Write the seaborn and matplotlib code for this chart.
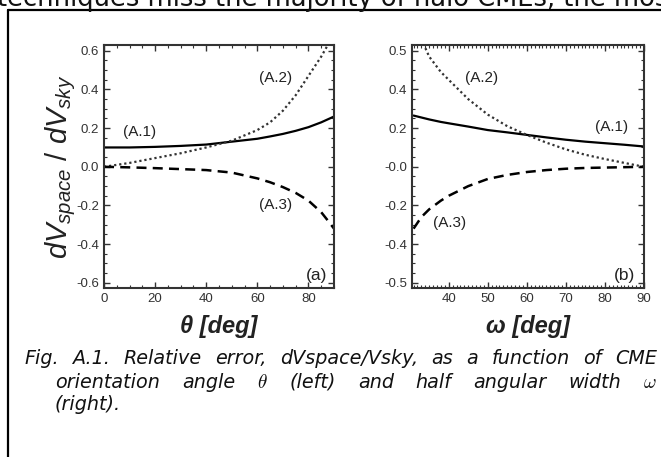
import numpy as np
import pandas as pd
import seaborn as sns
import matplotlib
matplotlib.use("Agg")
import matplotlib.pyplot as plt
from matplotlib.lines import Line2D
from matplotlib.ticker import MultipleLocator, FixedLocator, FixedFormatter

# --- values ---
# panel (a): function of orientation angle theta
theta = [0, 10, 20, 30, 40, 50, 60, 65, 70, 75, 80, 85, 88, 90]
a1_theta = [0.100, 0.100, 0.103, 0.108, 0.115, 0.130, 0.145, 0.157, 0.170, 0.186, 0.205, 0.230, 0.248, 0.260]
a2_theta = [0.000, 0.020, 0.045, 0.070, 0.100, 0.135, 0.190, 0.230, 0.290, 0.370, 0.470, 0.570, 0.640, 0.700]
a3_theta = [0.000, -0.003, -0.007, -0.012, -0.017, -0.030, -0.060, -0.080, -0.105, -0.135, -0.175, -0.235, -0.285, -0.320]

# panel (b): function of half angular width omega
omega = [31, 33, 35, 38, 40, 45, 50, 55, 60, 65, 70, 75, 80, 85, 90]
a1_omega = [0.265, 0.255, 0.245, 0.232, 0.225, 0.208, 0.190, 0.178, 0.165, 0.152, 0.140, 0.130, 0.122, 0.114, 0.105]
a2_omega = [0.760, 0.660, 0.570, 0.490, 0.450, 0.350, 0.270, 0.210, 0.165, 0.125, 0.090, 0.062, 0.040, 0.020, 0.000]
a3_omega = [-0.320, -0.260, -0.220, -0.175, -0.150, -0.100, -0.063, -0.042, -0.027, -0.017, -0.010, -0.006, -0.004, -0.002, 0.000]

y_ticks = [-0.6, -0.4, -0.2, 0.0, 0.2, 0.4, 0.6]
y_labels_a = ["-0.6", "-0.4", "-0.2", "0.0", "0.2", "0.4", "0.6"]
y_labels_b = ["-0.5", "-0.4", "-0.2", "-0.0", "0.2", "0.4", "0.5"]

top_line = "techniques miss the majority of halo CMEs, the most"
caption = [
    "Fig. A.1. Relative error, dVspace/Vsky, as a function of CME",
    r"orientation angle $\theta$  (left) and half angular width $\omega$",
    "(right).",
]

sns.set_theme(style="ticks")
plt.rcParams["font.family"] = ["Liberation Sans", "DejaVu Sans"]
plt.rcParams["mathtext.fontset"] = "custom"
plt.rcParams["mathtext.it"] = "Liberation Sans:italic"
plt.rcParams["mathtext.rm"] = "Liberation Sans"

fig = plt.figure(figsize=(6.61, 4.57), dpi=100)
ax_a = fig.add_axes([104 / 661, 1 - 288 / 457, 230 / 661, 243 / 457])
ax_b = fig.add_axes([412 / 661, 1 - 288 / 457, 232 / 661, 243 / 457])

dash_a2 = (0, (1, 1.3))
dash_a3 = (0, (4, 2.5))

for ax, x, s1, s2, s3 in [(ax_a, theta, a1_theta, a2_theta, a3_theta),
                          (ax_b, omega, a1_omega, a2_omega, a3_omega)]:
    sns.lineplot(x=x, y=s1, ax=ax, color="black", lw=1.6)
    sns.lineplot(x=x, y=s2, ax=ax, color="#333333", lw=1.6, linestyle=dash_a2)
    sns.lineplot(x=x, y=s3, ax=ax, color="black", lw=1.8, linestyle=dash_a3)
    ax.set_ylim(-0.627, 0.63)
    ax.yaxis.set_major_locator(FixedLocator(y_ticks))
    ax.yaxis.set_minor_locator(MultipleLocator(0.05))
    ax.tick_params(which="both", direction="in", top=True, right=True,
                   colors="#333333", labelcolor="#333333", labelsize=9.5)
    ax.tick_params(which="major", length=4, width=1)
    ax.tick_params(which="minor", length=2.5, width=0.8)
    for sp in ax.spines.values():
        sp.set_linewidth(1.5)
        sp.set_color("#333333")
    ax.set_ylabel("")
    ax.set_xlabel("")

ax_a.set_xlim(0, 90)
ax_a.xaxis.set_major_locator(FixedLocator([0, 20, 40, 60, 80]))
ax_a.xaxis.set_minor_locator(MultipleLocator(5))
ax_a.yaxis.set_major_formatter(FixedFormatter(y_labels_a))

ax_b.set_xlim(30.6, 90)
ax_b.xaxis.set_major_locator(FixedLocator([40, 50, 60, 70, 80, 90]))
ax_b.xaxis.set_minor_locator(MultipleLocator(1))
ax_b.yaxis.set_major_formatter(FixedFormatter(y_labels_b))

# curve labels
lab = dict(fontsize=11, color="#222222", ha="center", va="center")
ax_a.text(14, 0.18, "(A.1)", **lab)
ax_a.text(67, 0.46, "(A.2)", **lab)
ax_a.text(67, -0.20, "(A.3)", **lab)
ax_a.text(83, -0.56, "(a)", fontsize=12.5, color="#222222", ha="center", va="center")
ax_b.text(48.5, 0.46, "(A.2)", **lab)
ax_b.text(81.7, 0.207, "(A.1)", **lab)
ax_b.text(40.3, -0.29, "(A.3)", **lab)
ax_b.text(85, -0.56, "(b)", fontsize=12.5, color="#222222", ha="center", va="center")

# axis titles
ax_a.set_xlabel("\u03b8 [deg]", fontsize=17, fontweight="bold", style="italic", labelpad=7, color="#222222")
ax_b.set_xlabel("\u03c9 [deg]", fontsize=17, fontweight="bold", style="italic", labelpad=7, color="#222222")
ax_a.set_ylabel(r"$dV_{space}$ / $dV_{sky}$", fontsize=21, labelpad=-1, color="#222222")

# page elements: clipped text line above, frame and caption
fig.text(-0.004, 1 - 6.5 / 457, top_line, fontsize=18.5, family="DejaVu Sans",
         va="baseline", ha="left", color="#111111")
fig.add_artist(Line2D([8 / 661, 1.0], [1 - 9.5 / 457, 1 - 9.5 / 457], color="black", lw=1.6))
fig.add_artist(Line2D([8 / 661, 8 / 661], [0.0, 1 - 9.5 / 457], color="black", lw=1.6))

cap_kw = dict(fontsize=13.8, style="italic", family="DejaVu Sans", va="baseline",
              color="#111111", math_fontfamily="cm")


def justified(words, x0, x1, y):
    # lay the words out so the line fills x0..x1 (pixels), like the justified page text
    renderer = fig.canvas.get_renderer()
    texts = [fig.text(0, 1 - y / 457, w, **cap_kw) for w in words]
    widths = [t.get_window_extent(renderer).width for t in texts]
    gap = (x1 - x0 - sum(widths)) / (len(words) - 1)
    x = x0
    for t, w in zip(texts, widths):
        t.set_x(x / 661)
        x += w + gap


justified(caption[0].split(" "), 24, 657, 364)
justified(["orientation", "angle", r"$\theta$ ", "(left)", "and", "half",
           "angular", "width", r"$\omega$"], 55, 657, 388)
fig.text(55 / 661, 1 - 410 / 457, caption[2], **cap_kw)

fig.savefig("out.png", dpi=100)
